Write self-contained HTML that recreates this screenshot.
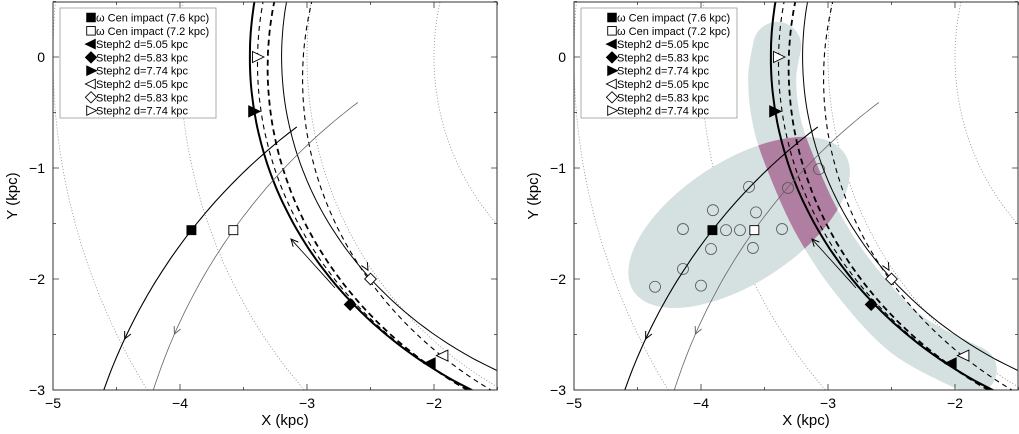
<!DOCTYPE html>
<html><head><meta charset="utf-8"><style>
html,body{margin:0;padding:0;background:#fff;overflow:hidden;width:1019px;height:434px}
svg{display:block;font-family:"Liberation Sans",sans-serif}
</style></head><body>
<svg id="c" width="1019" height="434" viewBox="0 0 1019 434"></svg>
<script>
// ---- data (kpc) ----
const trackNames   = ["track-thick-solid","track-thin-dash-a","track-thick-dash","track-thin-solid","track-thin-dash-b"];
const trackRadius  = [3.45, 3.44, 3.46, 3.20, 3.385];
const trackCenterX = [0.00, 0.05, 0.15, 0.00, 0.35];
const trackCenterY = [0.00, -0.05, -0.10, 0.00, -0.20];
const orbit76X = [-4.60, -3.91, -3.08];
const orbit76Y = [-3.00, -1.56, -0.63];
const orbit72X = [-4.21, -3.58, -2.60];
const orbit72Y = [-3.00, -1.56, -0.41];
const ringRadii = [2, 3, 4, 5];
const bandX = [-3.40, -3.44, -3.40, -3.28, -3.08, -2.79, -2.38, -1.86];
const bandY = [0.10, -0.2, -0.6, -1.0, -1.5, -2.0, -2.5, -2.82];
const sampleX = [-4.142,-3.906,-3.622,-3.567,-3.803,-3.693,-3.362,-3.921,-3.591,-4.142,-4.362,-4.0,-3.315,-3.071];
const sampleY = [-1.55,-1.38,-1.17,-1.40,-1.56,-1.56,-1.55,-1.73,-1.72,-1.91,-2.07,-2.06,-1.18,-1.01];
const ellipseC = [-3.70, -1.49];
const xTicks = [-5, -4, -3, -2];
const yTicks = [0, -1, -2, -3];
const legendLabels = ["\u03c9 Cen impact (7.6 kpc)","\u03c9 Cen impact (7.2 kpc)","Steph2 d=5.05 kpc","Steph2 d=5.83 kpc","Steph2 d=7.74 kpc","Steph2 d=5.05 kpc","Steph2 d=5.83 kpc","Steph2 d=7.74 kpc"];
const legendMarkers = ["sqF","sqO","ltF","diF","rtF","ltO","diO","rtO"];

const NS="http://www.w3.org/2000/svg";
const svg=document.getElementById('c');
function el(t,a,p){const e=document.createElementNS(NS,t);for(const k in a)e.setAttribute(k,a[k]);(p||svg).appendChild(e);return e;}
function smooth(pts){let d=`M${pts[0][0]},${pts[0][1]}`;for(let i=0;i<pts.length-1;i++){const p0=pts[Math.max(0,i-1)],p1=pts[i],p2=pts[i+1],p3=pts[Math.min(pts.length-1,i+2)];d+=` C${p1[0]+(p2[0]-p0[0])/6},${p1[1]+(p2[1]-p0[1])/6} ${p2[0]-(p3[0]-p1[0])/6},${p2[1]-(p3[1]-p1[1])/6} ${p2[0]},${p2[1]}`;}return d;}
function circ3(x1,y1,x2,y2,x3,y3){const d=2*(x1*(y2-y3)+x2*(y3-y1)+x3*(y1-y2));
 const ux=((x1*x1+y1*y1)*(y2-y3)+(x2*x2+y2*y2)*(y3-y1)+(x3*x3+y3*y3)*(y1-y2))/d;
 const uy=((x1*x1+y1*y1)*(x3-x2)+(x2*x2+y2*y2)*(x1-x3)+(x3*x3+y3*y3)*(x2-x1))/d;
 return [ux,uy,Math.hypot(x1-ux,y1-uy)];}
function marker(g,type,x,y,s,name){let e;const f=type.endsWith('F')?'#000':'#fff';const st={fill:f,stroke:'#000','stroke-width':0.9};
 if(type.startsWith('sq'))e=el('rect',Object.assign({x:x-s,y:y-s,width:2*s,height:2*s},st),g);
 else if(type.startsWith('di'))e=el('polygon',Object.assign({points:`${x},${y-s*1.3} ${x+s*1.3},${y} ${x},${y+s*1.3} ${x-s*1.3},${y}`},st),g);
 else if(type.startsWith('lt'))e=el('polygon',Object.assign({points:`${x-s*1.3},${y} ${x+s},${y-s*1.1} ${x+s},${y+s*1.1}`},st),g);
 else e=el('polygon',Object.assign({points:`${x+s*1.3},${y} ${x-s},${y-s*1.1} ${x-s},${y+s*1.1}`},st),g);
 
 
 return e;}
function arrowHead(g,x1,y1,x2,y2,col){const a=Math.atan2(y2-y1,x2-x1),L=8,w=0.45;
 el('path',{d:`M${x2-L*Math.cos(a-w)},${y2-L*Math.sin(a-w)} L${x2},${y2} L${x2-L*Math.cos(a+w)},${y2-L*Math.sin(a+w)}`,fill:'none',stroke:col,'stroke-width':1},g);}

function panel(off,shaded,idx){
 const L=53+off,R=497+off,T=2,B=390;
 const sx=X=>53+off+(X+5)*127, sy=Y=>57-Y*111;
 const g=el('g',{});
 const cid='clip'+idx;
 const cp=el('clipPath',{id:cid},g);el('rect',{x:L,y:T,width:R-L,height:B-T},cp);
 const pg=el('g',{'clip-path':`url(#${cid})`},g);
 ringRadii.forEach(r=>{const e=el('circle',{cx:sx(0),cy:sy(0),r:r*127,fill:'none',stroke:'#888','stroke-width':0.8,'stroke-dasharray':'1,2'},pg);
  
  });
 if(shaded){
  const bd=smooth(bandX.map((x,i)=>[sx(x),sy(bandY[i])]));
  const band=el('path',{d:bd,fill:'none',stroke:'#d5e0e1','stroke-width':48,'stroke-linecap':'round'},pg);
  
  
  const ex=sx(ellipseC[0]),ey=sy(ellipseC[1]);
  const ell=el('ellipse',{cx:ex,cy:ey,rx:126,ry:61,transform:`rotate(-33 ${ex} ${ey})`,fill:'#d5e0e1'},pg);
  
  
  const ec=el('clipPath',{id:'ec'+idx},g);el('ellipse',{cx:ex,cy:ey,rx:126,ry:61,transform:`rotate(-33 ${ex} ${ey})`},ec);
  const ov=el('path',{d:bd,fill:'none',stroke:'#b07ea0','stroke-width':48,'stroke-linecap':'round','clip-path':`url(#ec${idx})`},pg);
  
  
  sampleX.forEach((x,i)=>{const c=el('circle',{cx:sx(x),cy:sy(sampleY[i]),r:5.5,fill:'none',stroke:'#555','stroke-width':0.8},pg);
   
   });
 }
 const styles=[[2,null],[1.1,'5,4'],[1.8,'6,4'],[1,null],[1.1,'5,4']];
 trackRadius.forEach((r,k)=>{const cx=trackCenterX[k],cy=trackCenterY[k];let d='';
  for(let i=0;i<=80;i++){const Y=0.6-i*3.8/80;const dy=Y-cy;if(Math.abs(dy)>r)continue;const X=cx-Math.sqrt(r*r-dy*dy);d+=(d?'L':'M')+sx(X).toFixed(1)+','+sy(Y).toFixed(1);}
  const a={d:d,fill:'none',stroke:'#000','stroke-width':styles[k][0]};if(styles[k][1])a['stroke-dasharray']=styles[k][1];
  const e=el('path',a,pg);
  
  });
 function orbit(xs,ys,col,w,name){const c=circ3(sx(xs[0]),sy(ys[0]),sx(xs[1]),sy(ys[1]),sx(xs[2]),sy(ys[2]));
  const a0=Math.atan2(sy(ys[0])-c[1],sx(xs[0])-c[0]),a2=Math.atan2(sy(ys[2])-c[1],sx(xs[2])-c[0]);
  let da=a2-a0;while(da>Math.PI)da-=2*Math.PI;while(da<-Math.PI)da+=2*Math.PI;
  let d='';const pts=[];for(let i=0;i<=60;i++){const a=a0+da*i/60;const p=[c[0]+c[2]*Math.cos(a),c[1]+c[2]*Math.sin(a)];pts.push(p);d+=(i?'L':'M')+p[0].toFixed(1)+','+p[1].toFixed(1);}
  const e=el('path',{d:d,fill:'none',stroke:col,'stroke-width':w},pg);
  
  
  arrowHead(pg,pts[13][0],pts[13][1],pts[10][0],pts[10][1],col);}
 orbit(orbit76X,orbit76Y,'#000',1.1,'orbit-7.6');
 orbit(orbit72X,orbit72Y,'#666',0.8,'orbit-7.2');
 el('path',{d:`M${sx(-2.78)},${sy(-2.08)} L${sx(-3.126)},${sy(-1.64)} M${sx(-2.81)},${sy(-2.04)} L${sx(-3.115)},${sy(-1.655)}`,stroke:'#000','stroke-width':0.8,fill:'none'},pg);
 arrowHead(pg,sx(-2.9),sy(-1.93),sx(-3.126),sy(-1.64),'#000');
 arrowHead(pg,sx(-2.58),sy(-1.80),sx(-2.52),sy(-1.92),'#000');
 marker(pg,'sqF',sx(-3.91),sy(-1.56),4.5,'omega-cen-7.6-marker');
 marker(pg,'sqO',sx(-3.58),sy(-1.56),4.5,'omega-cen-7.2-marker');
 marker(pg,'ltF',sx(-2.03),sy(-2.76),5,'steph2-5.05-filled');
 marker(pg,'diF',sx(-2.66),sy(-2.23),4.5,'steph2-5.83-filled');
 marker(pg,'rtF',sx(-3.42),sy(-0.49),5,'steph2-7.74-filled');
 marker(pg,'ltO',sx(-1.93),sy(-2.69),5,'steph2-5.05-open');
 marker(pg,'diO',sx(-2.50),sy(-2.00),4.5,'steph2-5.83-open');
 marker(pg,'rtO',sx(-3.39),sy(0),5,'steph2-7.74-open');
 const fr=el('rect',{x:L,y:T,width:R-L,height:B-T,fill:'none',stroke:'#333','stroke-width':1},g);
 
 
 let td='';
 for(let X=-5;X<=-1.5;X+=0.5){const x=sx(X),m=Number.isInteger(X)?6:3;td+=`M${x},${B}v${-m}M${x},${T}v${m}`;}
 for(let Y=0.5;Y>=-3;Y-=0.5){const y=sy(Y),m=Number.isInteger(Y)?6:3;td+=`M${L},${y}h${m}M${R},${y}h${-m}`;}
 el('path',{d:td,stroke:'#333','stroke-width':0.8,fill:'none'},g);
 xTicks.forEach(X=>{const t=el('text',{x:sx(X),y:408,'font-size':14,'text-anchor':'middle',fill:'#000'},g);t.textContent='\u2212'+Math.abs(X);
  
  });
 yTicks.forEach(Y=>{const t=el('text',{x:L-8,y:sy(Y)+5,'font-size':14,'text-anchor':'end',fill:'#000'},g);t.textContent=Y===0?'0':'\u2212'+Math.abs(Y);
  
  });
 const xl=el('text',{x:285+off,y:425,'font-size':15,'text-anchor':'middle'},g);xl.textContent='X (kpc)';
 
 
 const yl=el('text',{x:0,y:0,'font-size':15,'text-anchor':'middle',transform:`translate(${17+off},196) rotate(-90)`},g);yl.textContent='Y (kpc)';
 
 
 const lg=el('g',{},g);
 
 
 el('rect',{x:60+off,y:8,width:156,height:110,fill:'#fff',stroke:'#999','stroke-width':0.8},lg);
 legendLabels.forEach((lab,i)=>{const y=17.5+i*13.3;
  marker(lg,legendMarkers[i],91+off,y,4.3,'legend-marker');
  const t=el('text',{x:96+off,y:y+4,'font-size':11,fill:'#000'},lg);t.textContent=lab;
  
  });
}
panel(0,false,1);
panel(521,true,2);
</script>
</body></html>
